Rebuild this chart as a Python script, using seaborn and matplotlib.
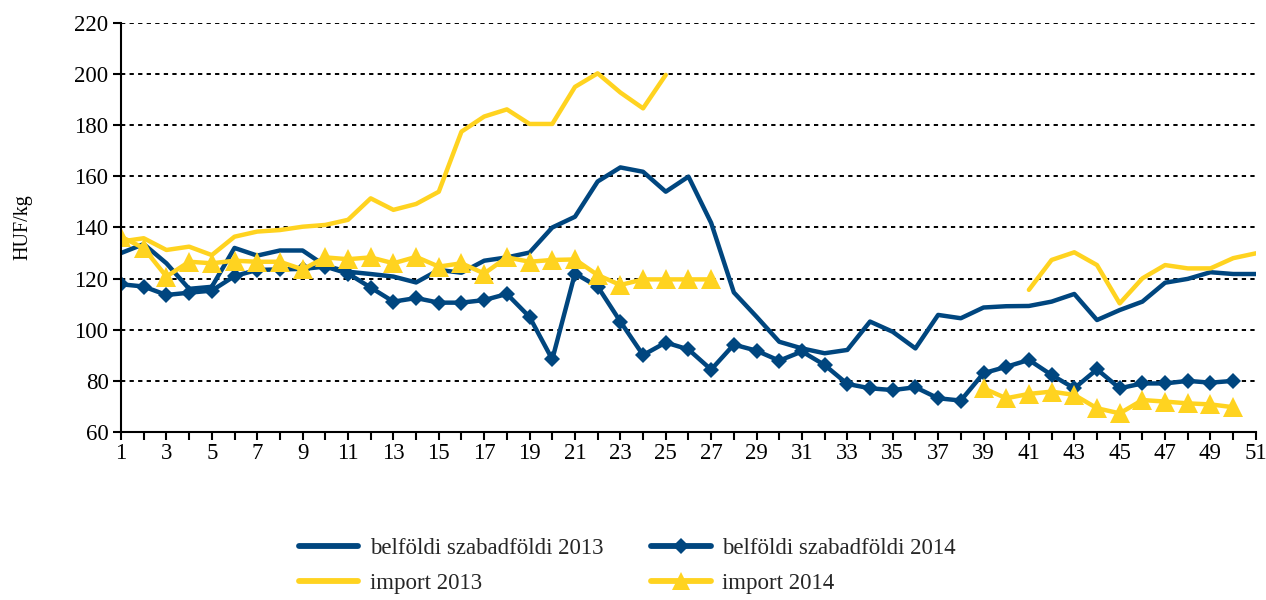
import numpy as np
import pandas as pd
import matplotlib
matplotlib.use("Agg")
import matplotlib.pyplot as plt
from matplotlib.lines import Line2D
import seaborn as sns

weeks = list(range(1, 52))
nan = np.nan

belf_2013 = [130, 133.5, 126, 116, 116.8, 132, 129, 131, 131, 125,
             122.7, 121.8, 120.8, 118.5, 123.4, 122.3, 127, 128.3, 130.2, 140,
             144.2, 158, 163.5, 161.8, 154, 159.9, 141.8, 114.6, 105.1, 95.3,
             92.7, 90.8, 92.1, 103.2, 99.2, 92.7, 105.8, 104.5, 108.7, 109.2,
             109.3, 111, 114, 103.8, 107.7, 111, 118.4, 119.9, 122.5, 121.8,
             121.8]
belf_2014 = [117.8, 116.9, 113.6, 114.5, 115.3, 121, 123.4, 123.6, 123.8, 124.7,
             122, 116.5, 111, 112.4, 110.6, 110.6, 111.6, 114, 105, 88.4,
             122, 116.9, 103.2, 90.1, 95, 92.3, 84.4, 94.2, 91.8, 87.9,
             91.5, 86.2, 78.8, 77.1, 76.4, 77.5, 73.2, 72.3, 83, 85.5,
             88.2, 82.3, 77.1, 84.5, 77.1, 79, 79, 80, 79.3, 80,
             nan]
import_2013 = [134.5, 135.8, 131.2, 132.5, 129.2, 136.4, 138.4, 139, 140.3, 141,
               143, 151.4, 146.9, 149.2, 154, 177.5, 183.4, 186.2, 180.5, 180.5,
               195, 200.3, 192.8, 186.6, 199.7, nan, nan, nan, nan, nan,
               nan, nan, nan, nan, nan, nan, nan, nan, nan, nan,
               115.6, 127.3, 130.3, 125.3, 110.3, 120.1, 125.3, 124, 124, 128,
               129.9]
import_2014 = [136.4, 131.9, 120.8, 126.6, 126, 127, 126.6, 126.6, 123.6, 128.3,
               127.6, 128.3, 126, 128.5, 124.7, 126, 122, 128.3, 126.6, 127.3,
               127.5, 121.4, 117.5, 119.7, 119.7, 119.7, 119.7, nan, nan, nan,
               nan, nan, nan, nan, nan, nan, nan, nan, 77.1, 73.2,
               74.9, 75.8, 74.5, 69.3, 67.3, 72.5, 71.9, 71.2, 70.8, 69.7,
               nan]

labels = ["belföldi szabadföldi 2013", "belföldi szabadföldi 2014",
          "import 2013", "import 2014"]
values = [belf_2013, belf_2014, import_2013, import_2014]

blue = "#00467F"
yellow = "#FFD320"
styles = {
    labels[0]: dict(color=blue, marker=None, ms=0),
    labels[1]: dict(color=blue, marker="D", ms=8.5),
    labels[2]: dict(color=yellow, marker=None, ms=0),
    labels[3]: dict(color=yellow, marker="^", ms=14),
}

sns.set_theme(style="white")
plt.rcParams["font.family"] = ["Liberation Serif", "DejaVu Serif"]

fig = plt.figure(figsize=(12.66, 6.0), dpi=100)
ax = fig.add_axes([0.0956, 0.28, 0.8964, 0.6817])

for lab, vals in zip(labels, values):
    df = pd.DataFrame({"week": weeks, "value": vals})
    seg = df["value"].isna().cumsum()
    st = styles[lab]
    ok = df["value"].notna()
    for _, part in df[ok].groupby(seg[ok]):
        sns.lineplot(data=part, x="week", y="value", ax=ax, color=st["color"],
                     linewidth=3.2, marker=st["marker"], markersize=st["ms"],
                     markeredgewidth=0, estimator=None, sort=False, legend=False)

ax.set_xlim(1, 51)
ax.set_ylim(60, 220)
ax.set_yticks(range(60, 221, 20))
ax.set_xticks(range(1, 52, 2))
ax.set_xticks(range(2, 51, 2), minor=True)
ax.tick_params(axis="both", which="both", direction="out", length=6, width=1.5,
               color="black", labelsize=16.5, labelcolor="black")
ax.tick_params(axis="x", which="both", bottom=True, pad=2)
ax.tick_params(axis="y", left=True, pad=3)
ax.set_xlabel("")
ax.set_ylabel("HUF/kg", fontsize=14.5, color="black")
ax.yaxis.set_label_coords(-0.078, 0.5)

for y in range(80, 221, 20):
    ax.axhline(y, color="black", linewidth=1.4, linestyle=(0, (2.2, 2.2)), zorder=0)

for side in ["top", "right"]:
    ax.spines[side].set_visible(False)
for side in ["left", "bottom"]:
    ax.spines[side].set_color("black")
    ax.spines[side].set_linewidth(1.5)

handles = []
for lab in [labels[0], labels[2], labels[1], labels[3]]:
    st = styles[lab]
    handles.append(Line2D([0], [0], color=st["color"], linewidth=4.2,
                          marker=st["marker"], markersize=st["ms"] * 0.9,
                          markeredgewidth=0, label=lab))
fig.legend(handles=handles, loc="center left", bbox_to_anchor=(0.236, 0.057), ncol=2,
           frameon=False, fontsize=16.5, handlelength=2.6, handletextpad=0.5,
           columnspacing=2.1, labelspacing=0.6, borderpad=0, borderaxespad=0)

fig.savefig("out.png", dpi=100)
